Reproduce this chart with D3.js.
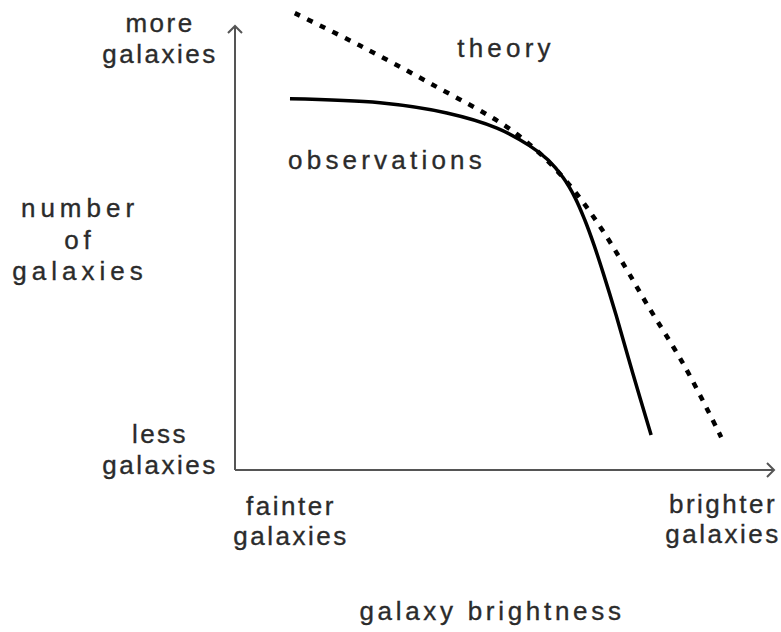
<!DOCTYPE html>
<html>
<head>
<meta charset="utf-8">
<script src="https://cdn.jsdelivr.net/npm/d3@7"></script>
<style>
  html, body { margin: 0; padding: 0; background: #fff; }
  svg { display: block; }
  text { font-family: "Liberation Sans", Arial, sans-serif; fill: #2b2b2b; stroke: #2b2b2b; stroke-width: 0.35px; }
</style>
</head>
<body>
<svg id="chart" width="781" height="632"></svg>
<script>
// Schematic luminosity function: relative brightness (0–100) vs relative number of galaxies (0–100)
const observationsX = [10.2, 26.9, 39.3, 48.6, 54.7, 58.1, 60.9, 63.1, 64.9, 66.6, 68.3, 70.7, 73.8, 77.2];
const observationsY = [83.6, 82.7, 80.4, 77.0, 73.0, 69.8, 65.8, 61.3, 56.3, 50.7, 44.4, 34.9, 21.8, 7.9];
const theoryX = [11.1, 23.0, 36.5, 50.4, 56.9, 62.8, 67.8, 72.4, 76.3, 83.5, 90.2];
const theoryY = [102.9, 95.7, 86.9, 77.3, 70.9, 63.1, 54.7, 45.7, 37.6, 23.2, 7.4];

const curveLabels = ["observations", "theory"];
const yEndLabels = [["more", "galaxies"], ["less", "galaxies"]];
const xEndLabels = [["fainter", "galaxies"], ["brighter", "galaxies"]];
const yTitle = ["number", "of", "galaxies"];
const xTitle = "galaxy brightness";

const svg = d3.select("#chart");

const x = d3.scaleLinear().domain([0, 100]).range([235, 774]);
const y = d3.scaleLinear().domain([0, 100]).range([470, 26]);

// axes with open arrowheads
const axisColor = "#555";
const ax = svg.append("g").attr("stroke", axisColor).attr("stroke-width", 2).attr("fill", "none");
const [x0, x1] = x.range();
const [y0, y1] = y.range();
ax.append("line").attr("x1", x0).attr("y1", y0).attr("x2", x1).attr("y2", y0);
ax.append("line").attr("x1", x0).attr("y1", y0).attr("x2", x0).attr("y2", y1);
const head = 7;
ax.append("path").attr("d", `M${x1 - head},${y0 - head}L${x1},${y0}L${x1 - head},${y0 + head}`);
ax.append("path").attr("d", `M${x0 - head},${y1 + head}L${x0},${y1}L${x0 + head},${y1 + head}`);

const line = d3.line()
  .x(d => x(d[0]))
  .y(d => y(d[1]))
  .curve(d3.curveCatmullRom.alpha(0.5));

svg.append("path")
  .datum(d3.zip(theoryX, theoryY))
  .attr("d", line)
  .attr("fill", "none")
  .attr("stroke", "#000")
  .attr("stroke-width", 4.5)
  .attr("stroke-dasharray", "6,8");

svg.append("path")
  .datum(d3.zip(observationsX, observationsY))
  .attr("d", line)
  .attr("fill", "none")
  .attr("stroke", "#000")
  .attr("stroke-width", 3.5)
  .attr("stroke-linecap", "butt");

function multiline(lines, cx, baseline, lead, size, spacing) {
  const t = svg.append("text")
    .attr("text-anchor", "middle")
    .style("font-size", size + "px")
    .style("letter-spacing", spacing + "px");
  lines.forEach((s, i) => {
    t.append("tspan").attr("x", cx).attr("y", baseline + i * lead).text(s);
  });
  return t;
}

// curve labels
multiline([curveLabels[0]], 387, 169, 0, 26, 4.2);
multiline([curveLabels[1]], 506, 57, 0, 26, 4.2);

// axis end labels
multiline(yEndLabels[0], 160, 32, 31, 26, 2.5);
multiline(yEndLabels[1], 160, 443, 31, 26, 2.5);
multiline(xEndLabels[0], 291, 515, 30, 26, 2.5);
multiline(xEndLabels[1], 723, 513, 30, 26, 2.5);

// axis titles
multiline(yTitle, 80, 217, 31.5, 26, 5);
multiline([xTitle], 492, 620, 0, 26, 3.7);
</script>
</body>
</html>
